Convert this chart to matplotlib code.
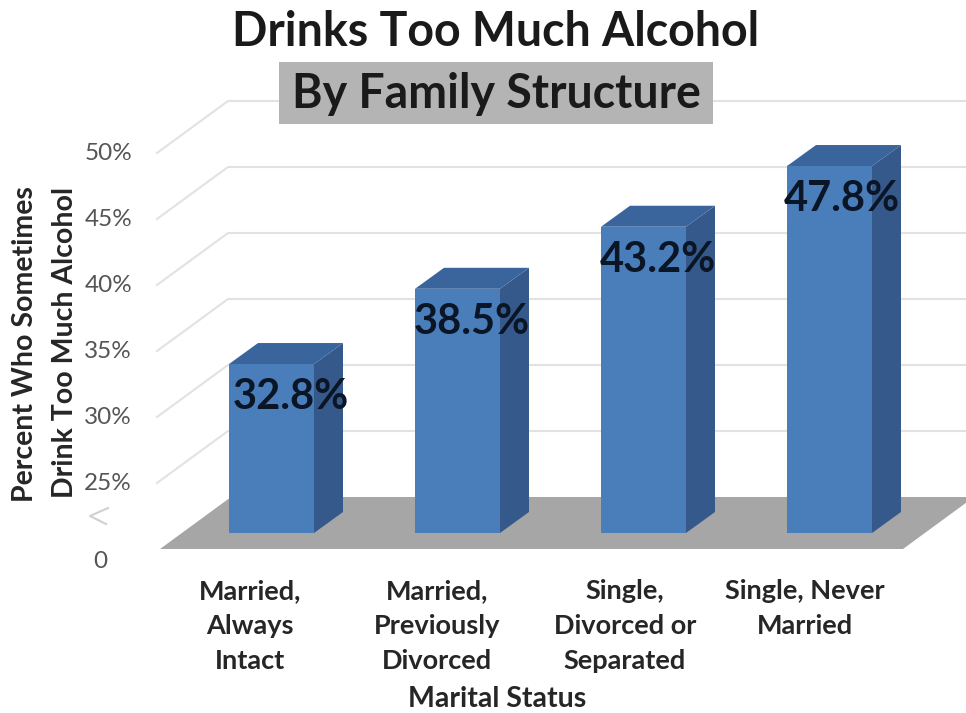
import matplotlib.pyplot as plt
from matplotlib.patches import Rectangle

plt.rcParams['font.family'] = ['Lato', 'DejaVu Sans']

categorias = ['Married,\nAlways\nIntact', 'Married,\nPreviously\nDivorced',
              'Single,\nDivorced or\nSeparated', 'Single, Never\nMarried']
valores = [32.8, 38.5, 43.2, 47.8]
rotulos = ['32.8%', '38.5%', '43.2%', '47.8%']
ticks = [25, 30, 35, 40, 45, 50]
tick_labels = ['25%', '30%', '35%', '40%', '45%', '50%']
base = 20

W, H = 966, 713
px_x = 186.0      # pixels per category
px_y = 13.2       # pixels per percent
x0 = 271.5
y0 = 533

fig = plt.figure(figsize=(W / 100, H / 100), dpi=100)
ax = fig.add_axes([0, 0, 1, 1])
ax.set_xlim(-x0 / px_x, (W - x0) / px_x)
ax.set_ylim(base - (H - y0) / px_y, base + y0 / px_y)
ax.axis('off')


def texto(x, y, s, **kw):
    fig.text(x / W, 1 - y / H, s, va='center', **kw)


# bar and wall depth, in data units
larg = 85 / px_x
dx, dy = 29 / px_x, 21 / px_y
queda = 16 / px_y
wall_dx, wall_dy = 71 / px_x, 52 / px_y
esq = (160 - x0) / px_x
dir_ = (903 - x0) / px_x
dir_fundo = dir_ + wall_dx

# floor
ax.fill([esq, dir_, dir_fundo, esq + wall_dx],
        [base - queda, base - queda, base - queda + wall_dy, base - queda + wall_dy],
        color='#a6a6a6', lw=0, zorder=1)

# gridlines on wall and side
for t in ticks:
    yf = t - queda
    ax.plot([esq - 3 / px_x, esq + wall_dx - 3 / px_x, dir_fundo + 1],
            [yf, yf + wall_dy, yf + wall_dy], color='#e2e2e2', lw=1.5, zorder=0.5)

# bars
desloc = [19, 14, 14, 12]
for i, v in enumerate(valores):
    e, d = i - larg / 2, i + larg / 2
    ax.bar(i, v - base, larg, bottom=base, color='#4a7ebb', lw=0, zorder=3)
    ax.fill([d, d + dx, d + dx, d], [base, base + dy, v + dy, v],
            color='#35598a', lw=0, zorder=3)
    ax.fill([e, d, d + dx, e + dx], [v, v, v + dy, v + dy],
            color='#39659c', lw=0, zorder=3)
    ax.annotate(rotulos[i], (i, v), xytext=(desloc[i], -33), textcoords='offset pixels',
                ha='center', va='center', fontsize=30, fontweight='bold',
                color='#0a1526', zorder=5)

# title
texto(496, 32, 'Drinks Too Much Alcohol', ha='center', fontsize=33.5,
      fontweight='bold', color='#1a1a1a')
fig.add_artist(Rectangle((279 / W, 1 - 124 / H), 434 / W, 62 / H,
                         transform=fig.transFigure, color='#b4b4b4', lw=0, zorder=4))
texto(496, 94, 'By Family Structure', ha='center', fontsize=33.5,
      fontweight='bold', color='#1a1a1a', zorder=6)

# y tick labels
for t, lab in zip(ticks, tick_labels):
    texto(132, 484 - (t - 25) * px_y, lab, ha='right', fontsize=17.5, color='#555555')
texto(100, 562, '0', ha='center', fontsize=17.5, color='#555555')
ax.plot([(108 - x0) / px_x, (90 - x0) / px_x, (106 - x0) / px_x],
        [base + (533 - 508) / px_y, base + (533 - 516) / px_y, base + (533 - 524) / px_y],
        color='#d0d0d0', lw=1.5, zorder=2)

# axis titles
texto(25, 344, 'Percent Who Sometimes', ha='center', rotation=90, fontsize=20.5,
      fontweight='bold', color='#262626')
texto(65, 343, 'Drink Too Much Alcohol', ha='center', rotation=90, fontsize=20.5,
      fontweight='bold', color='#262626')

# category labels
centros = [250, 437, 625, 805]
for c, cat in zip(centros, categorias):
    fig.text(c / W, 1 - 579 / H, cat, ha='center', va='top', fontsize=19.5,
             fontweight='bold', color='#262626', linespacing=1.56)
texto(497, 699, 'Marital Status', ha='center', fontsize=20.5, fontweight='bold',
      color='#262626')

fig.savefig('out.png', dpi=100)
